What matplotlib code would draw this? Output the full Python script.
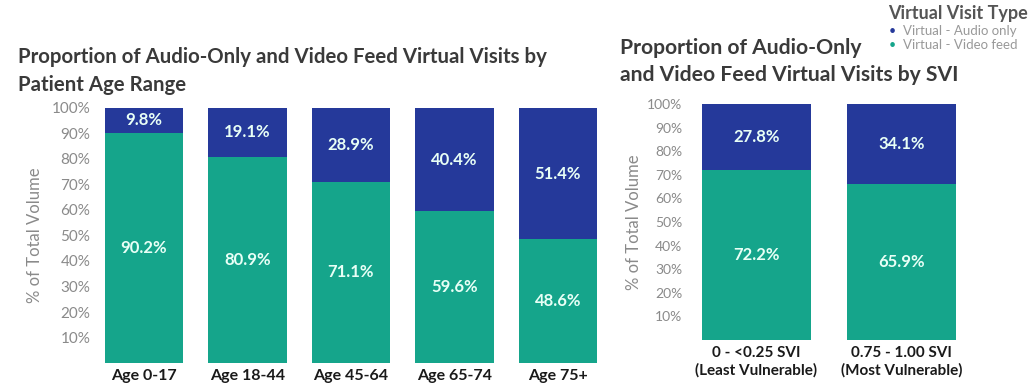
import matplotlib.pyplot as plt
import numpy as np

plt.rcParams['font.family'] = ['Lato', 'DejaVu Sans']

# Left panel: visits by patient age range (share of total volume, %)
age_groups = ['Age 0-17', 'Age 18-44', 'Age 45-64', 'Age 65-74', 'Age 75+']
age_video = [90.2, 80.9, 71.1, 59.6, 48.6]
age_audio = [9.8, 19.1, 28.9, 40.4, 51.4]

# Right panel: visits by SVI group
svi_groups = ['0 - <0.25 SVI\n(Least Vulnerable)', '0.75 - 1.00 SVI\n(Most Vulnerable)']
svi_video = [72.2, 65.9]
svi_audio = [27.8, 34.1]

yticks = [10, 20, 30, 40, 50, 60, 70, 80, 90, 100]

teal = '#15a58b'
navy = '#25399a'
grey = '#8a8a8a'
title_col = '#3a3a3a'

fig = plt.figure(figsize=(10.31, 3.85), dpi=100)
W, H = 1031, 385


def px_axes(x0, x1, y_top, y_bot):
    return fig.add_axes([x0 / W, 1 - y_bot / H, (x1 - x0) / W, (y_bot - y_top) / H])


def stacked(ax, groups, video, audio, width, fs_tick, fs_val, fs_x):
    x = np.arange(len(groups))
    ax.bar(x, video, width, color=teal, edgecolor='none')
    ax.bar(x, audio, width, bottom=video, color=navy, edgecolor='none')
    for xi, v, a in zip(x, video, audio):
        ax.text(xi, v / 2, f'{v:.1f}%', ha='center', va='center', color='#e8fff6',
                fontsize=fs_val, fontweight='bold')
        ax.text(xi, v + a / 2, f'{a:.1f}%', ha='center', va='center', color='#e8fff6',
                fontsize=fs_val, fontweight='bold')
    ax.set_ylim(0, 100)
    ax.set_yticks(yticks)
    ax.set_yticklabels([f'{t}%' for t in yticks], color=grey, fontsize=fs_tick)
    ax.set_xticks(x)
    ax.set_xticklabels(groups, fontsize=fs_x, fontweight='bold', color='#1a1a1a',
                       linespacing=1.3)
    ax.tick_params(length=0, pad=4)
    for s in ax.spines.values():
        s.set_visible(False)
    ax.set_ylabel('% of Total Volume', color=grey, fontsize=12)


# left axes: bar centers at 144 + 103.5*i px, bars 78 px wide
ax1 = px_axes(96, 610, 108, 363)
ax1.set_xlim((96 - 144) / 103.5, (610 - 144) / 103.5)
stacked(ax1, age_groups, age_video, age_audio, 0.755, 11, 12, 11.5)
ax1.yaxis.labelpad = 6

# right axes: bar centers at 756.5 + 145*i px, bars 109 px wide
ax2 = px_axes(688, 990, 104, 340)
ax2.set_xlim((688 - 756.5) / 145, (990 - 756.5) / 145)
stacked(ax2, svi_groups, svi_video, svi_audio, 0.75, 10, 12, 11)
ax2.yaxis.labelpad = 4

fig.text(18 / W, 1 - 57 / H, 'Proportion of Audio-Only and Video Feed Virtual Visits by',
         fontsize=14.7, fontweight='bold', color=title_col, va='center')
fig.text(18 / W, 1 - 85 / H, 'Patient Age Range',
         fontsize=14.7, fontweight='bold', color=title_col, va='center')
fig.text(620 / W, 1 - 48 / H, 'Proportion of Audio-Only',
         fontsize=15.2, fontweight='bold', color=title_col, va='center')
fig.text(620 / W, 1 - 75 / H, 'and Video Feed Virtual Visits by SVI',
         fontsize=15.2, fontweight='bold', color=title_col, va='center')

# legend block in the top-right corner
fig.text(1028 / W, 1 - 14 / H, 'Virtual Visit Type', fontsize=13, fontweight='bold',
         color='#555555', ha='right', va='center')
for yy, lab, col in [(31, 'Virtual - Audio only', navy), (45, 'Virtual - Video feed', teal)]:
    fig.text(889 / W, 1 - yy / H, '•', fontsize=9, color=col, va='center')
    fig.text(903 / W, 1 - yy / H, lab, fontsize=9.5, color='#999999', va='center')

fig.savefig('out.png', dpi=100)
